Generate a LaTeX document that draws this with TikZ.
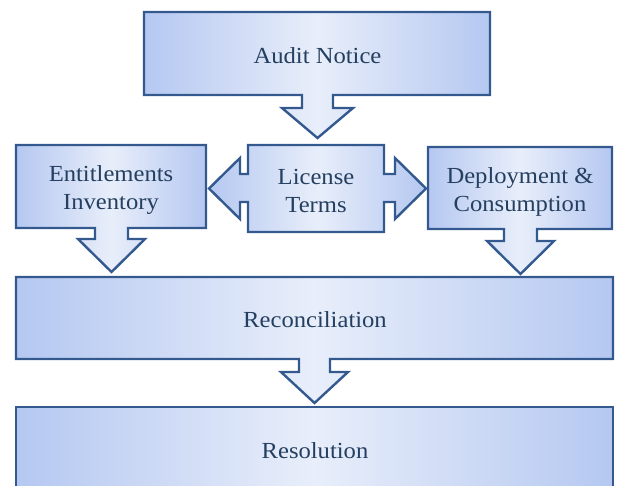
\documentclass[tikz,border=0pt]{standalone}
\usepackage{fontspec}
\setmainfont[FakeStretch=1.07]{Liberation Serif}
\definecolor{edgeblue}{HTML}{B5C8F1}
\definecolor{midblue}{HTML}{E8EEFA}
\definecolor{borderblue}{HTML}{34598F}
\definecolor{textblue}{HTML}{243F60}
\tikzset{
  flowshape/.style={draw=borderblue, line width=2.4pt, line join=miter,
    left color=edgeblue, right color=edgeblue, middle color=midblue},
  txt/.style={text=textblue, font=\fontsize{23}{28}\selectfont, align=center,
    inner sep=0pt, anchor=base}
}
\begin{document}
\begin{tikzpicture}[x=1pt,y=-1pt]
\useasboundingbox (0,0) rectangle (618,485);
\clip (0,0) rectangle (618,485);
% Audit Notice
\draw[flowshape] (144,12) -- (490,12) -- (490,95) -- (333,95) -- (333,108) -- (353,108)
  -- (317.5,138) -- (282,108) -- (302,108) -- (302,95) -- (144,95) -- cycle;
% Entitlements
\draw[flowshape] (16,145) -- (206,145) -- (206,228) -- (128,228) -- (128,239) -- (145,239)
  -- (111.5,272) -- (78,239) -- (95,239) -- (95,228) -- (16,228) -- cycle;
% License Terms
\draw[flowshape] (248,145) -- (384,145) -- (384,174) -- (395,174) -- (395,158) -- (426,188.5)
  -- (395,219) -- (395,202) -- (384,202) -- (384,232) -- (248,232) -- (248,202)
  -- (240,202) -- (240,219) -- (209,188.5) -- (240,158) -- (240,174) -- (248,174) -- cycle;
% Deployment
\draw[flowshape] (428,147) -- (612,147) -- (612,229) -- (537,229) -- (537,241) -- (554,241)
  -- (520.5,274) -- (487,241) -- (504,241) -- (504,229) -- (428,229) -- cycle;
% Reconciliation
\draw[flowshape] (16,277) -- (613,277) -- (613,359) -- (330,359) -- (330,372) -- (348,372)
  -- (314.5,403) -- (281,372) -- (299,372) -- (299,359) -- (16,359) -- cycle;
% Resolution
\draw[flowshape] (16,407) -- (613,407) -- (613,495) -- (16,495) -- cycle;
% texts
\node[txt] (audit) at (317.5,63) {Audit Notice};
\node[txt] (ent) at (111,209) {Entitlements\\Inventory};
\node[txt] (lic) at (316,212) {License\\Terms};
\node[txt] (dep) at (520,211) {Deployment \&\\Consumption};
\node[txt] (rec) at (315,327) {Reconciliation};
\node[txt] (res) at (315,458) {Resolution};
\end{tikzpicture}
\end{document}
